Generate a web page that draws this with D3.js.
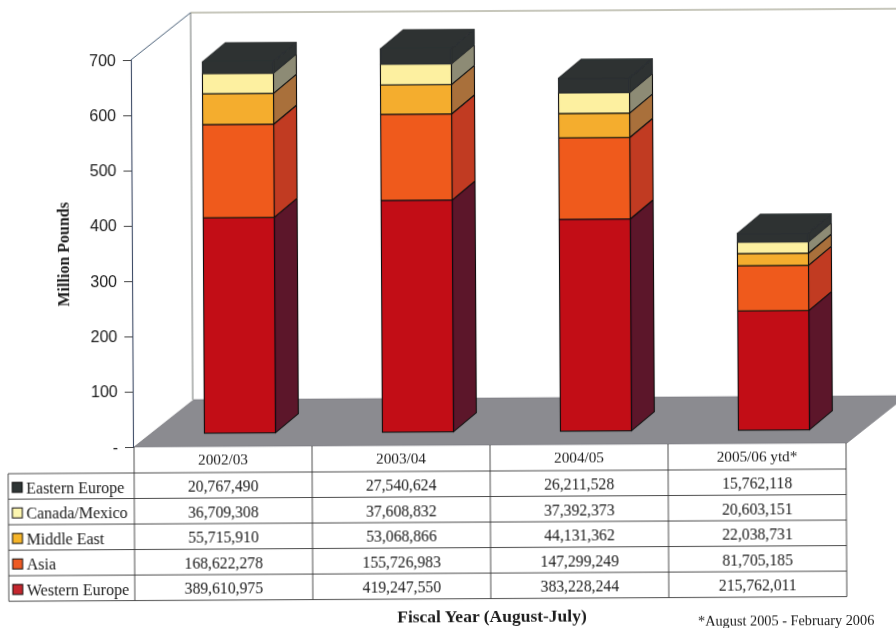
<!DOCTYPE html>
<html>
<head>
<meta charset="utf-8">
<script src="https://cdn.jsdelivr.net/npm/d3@7"></script>
<style>
  html, body { margin: 0; padding: 0; background: #fff; overflow: hidden; }
  svg { display: block; }
  .serif { font-family: "Liberation Serif", serif; fill: #1a1a1a; }
</style>
</head>
<body>
<div id="chart"></div>
<script>
// Chart data
const years = ["2002/03", "2003/04", "2004/05", "2005/06 ytd*"];
const regions = ["Western Europe", "Asia", "Middle East", "Canada/Mexico", "Eastern Europe"];
const westernEurope = [389610975, 419247550, 383228244, 215762011];
const asia = [168622278, 155726983, 147299249, 81705185];
const middleEast = [55715910, 53068866, 44131362, 22038731];
const canadaMexico = [36709308, 37608832, 37392373, 20603151];
const easternEurope = [20767490, 27540624, 26211528, 15762118];
const yTicks = [0, 100, 200, 300, 400, 500, 600, 700];

const seriesValues = [westernEurope, asia, middleEast, canadaMexico, easternEurope];
const frontColors = ["#c20c18", "#ef5a1e", "#f4ad2f", "#fdf0a0", "#2d3031"];
const sideColors = ["#5b1329", "#c13a20", "#a9703a", "#8d8b74", "#2d3031"];
const strokeColors = ["#111", "#111", "#111", "#111", "#2d3031"];
const swatchColors = ["#c4272e", "#ee5a24", "#f6b52c", "#fdf6b0", "#2f3436"];

const width = 896, height = 628;
const tilt = -0.32; // the page was scanned slightly crooked

const svg = d3.select("#chart").append("svg")
    .attr("width", width)
    .attr("height", height);

const defs = svg.append("defs");
defs.append("filter").attr("id", "scan")
    .append("feGaussianBlur").attr("stdDeviation", 0.35);

const g = svg.append("g")
    .attr("filter", "url(#scan)")
    .attr("transform", `rotate(${tilt},133,447)`);

// scales
const x = d3.scaleBand().domain(years).range([134, 846]);
const y = d3.scaleLinear().domain([0, 700]).range([447, 60]);
const rowY = d3.scaleBand().domain(regions.slice().reverse()).range([473, 600.6]);

// 3d offsets
const wallDx = 60, wallDy = -47;
const barInsetX = 17, barInsetY = -13.4;
const barDx = 23, barDy = -19;
const barWidth = 71;

// floor and walls
const floorRight = 847;
g.append("polygon")
    .attr("points", [[134, 447], [134 + wallDx, 447 + wallDy], [floorRight + wallDx, 447 + wallDy], [floorRight, 447]].join(" "))
    .attr("fill", "#8b8b90")
    .attr("stroke", "#77777c")
    .attr("stroke-width", 0.6);

const wallColor = "#6f7270";
g.append("line")
    .attr("x1", 133 + wallDx).attr("x2", 133 + wallDx)
    .attr("y1", y(700) + wallDy).attr("y2", 447 + wallDy)
    .attr("stroke", wallColor).attr("stroke-width", 1);
g.append("line")
    .attr("x1", 133 + wallDx).attr("x2", width + 20)
    .attr("y1", y(700) + wallDy).attr("y2", y(700) + wallDy)
    .attr("stroke", "#8f8f78").attr("stroke-width", 1);
g.append("line")
    .attr("x1", 133).attr("x2", 133 + wallDx)
    .attr("y1", y(700)).attr("y2", y(700) + wallDy)
    .attr("stroke", "#4a6078").attr("stroke-width", 1);

// y axis
const yAxis = g.append("g")
    .attr("transform", "translate(133,0)")
    .call(d3.axisLeft(y).tickValues(yTicks).tickSize(8).tickPadding(7)
        .tickFormat(d => d === 0 ? "-" : d));
yAxis.select(".domain").attr("stroke", "#3c4c66").attr("stroke-width", 1.1);
yAxis.selectAll(".tick line").attr("stroke", "#444").attr("stroke-width", 1);
yAxis.selectAll("text")
    .style("font-family", '"Liberation Sans", Arial, sans-serif')
    .style("font-size", "16px")
    .attr("fill", "#1a1a1a");

g.append("text")
    .attr("class", "serif")
    .attr("transform", "translate(70,254) rotate(-90)")
    .attr("text-anchor", "middle")
    .style("font-size", "16px")
    .style("font-weight", "bold")
    .text("Million Pounds");

// stacked bars
const stackRows = years.map((yr, i) => {
    const row = { year: yr };
    regions.forEach((r, j) => { row[r] = seriesValues[j][i] / 1e6; });
    return row;
});
const stacked = d3.stack().keys(regions)(stackRows);

const bars = g.selectAll(".bar").data(years).join("g")
    .attr("class", "bar")
    .attr("transform", d => `translate(${x(d) + x.bandwidth() / 2 + barInsetX - barWidth / 2},${barInsetY})`);

bars.each(function(yr, i) {
    const bar = d3.select(this);
    stacked.forEach((layer, j) => {
        const y0 = y(layer[i][0]), y1 = y(layer[i][1]);
        // side face
        bar.append("polygon")
            .attr("points", [[barWidth, y0], [barWidth + barDx, y0 + barDy], [barWidth + barDx, y1 + barDy], [barWidth, y1]].join(" "))
            .attr("fill", sideColors[j])
            .attr("stroke", strokeColors[j]).attr("stroke-width", 1.1).attr("stroke-linejoin", "round");
        // front face
        bar.append("rect")
            .attr("x", 0).attr("y", y1)
            .attr("width", barWidth).attr("height", y0 - y1)
            .attr("fill", frontColors[j])
            .attr("stroke", strokeColors[j]).attr("stroke-width", 1.1);
    });
    const top = y(stacked[stacked.length - 1][i][1]);
    bar.append("polygon")
        .attr("points", [[0, top], [barDx, top + barDy], [barWidth + barDx, top + barDy], [barWidth, top]].join(" "))
        .attr("fill", frontColors[4])
        .attr("stroke", strokeColors[4]).attr("stroke-width", 1.1).attr("stroke-linejoin", "round");
});

// data table
const tableLeft = 8, tableTop = 447, tableBottom = 600.6, tableRight = 846;
const gridColor = "#3a3a3a";
const rowLines = rowY.domain().map(r => rowY(r)).concat([tableBottom]);
g.selectAll(".row-line").data(rowLines).join("line")
    .attr("class", "row-line")
    .attr("x1", tableLeft).attr("x2", tableRight)
    .attr("y1", d => d).attr("y2", d => d)
    .attr("stroke", gridColor).attr("stroke-width", 0.9);
const colLines = years.map(d => x(d)).concat([tableRight]);
g.selectAll(".col-line").data(colLines).join("line")
    .attr("class", "col-line")
    .attr("x1", d => d).attr("x2", d => d)
    .attr("y1", tableTop).attr("y2", tableBottom)
    .attr("stroke", gridColor).attr("stroke-width", 0.9);
g.append("line")
    .attr("x1", tableLeft).attr("x2", tableLeft)
    .attr("y1", rowLines[0]).attr("y2", tableBottom)
    .attr("stroke", gridColor).attr("stroke-width", 0.9);

g.selectAll(".year-label").data(years).join("text")
    .attr("class", "year-label serif")
    .attr("x", d => x(d) + x.bandwidth() / 2)
    .attr("y", 465)
    .attr("text-anchor", "middle")
    .style("font-size", "15.2px")
    .text(d => d);

regions.forEach((region, j) => {
    const cy = rowY(region) + rowY.bandwidth() / 2;
    g.append("rect")
        .attr("x", 12).attr("y", cy - 4)
        .attr("width", 10).attr("height", 10)
        .attr("fill", swatchColors[j])
        .attr("stroke", "#111").attr("stroke-width", 1);
    g.append("text")
        .attr("class", "serif")
        .attr("x", 26).attr("y", cy + 7)
        .style("font-size", "16px")
        .text(region);
    g.selectAll(null).data(years).join("text")
        .attr("class", "serif")
        .attr("x", d => x(d) + x.bandwidth() / 2)
        .attr("y", cy + 6.5)
        .attr("text-anchor", "middle")
        .style("font-size", "15.7px")
        .text((d, i) => d3.format(",")(seriesValues[j][i]));
});

g.append("text")
    .attr("class", "serif")
    .attr("x", 491).attr("y", 624)
    .attr("text-anchor", "middle")
    .style("font-size", "17.5px")
    .style("font-weight", "bold")
    .text("Fiscal Year (August-July)");

g.append("text")
    .attr("class", "serif")
    .attr("x", 697).attr("y", 628.5)
    .style("font-size", "14.3px")
    .text("*August 2005 - February 2006");
</script>
</body>
</html>
